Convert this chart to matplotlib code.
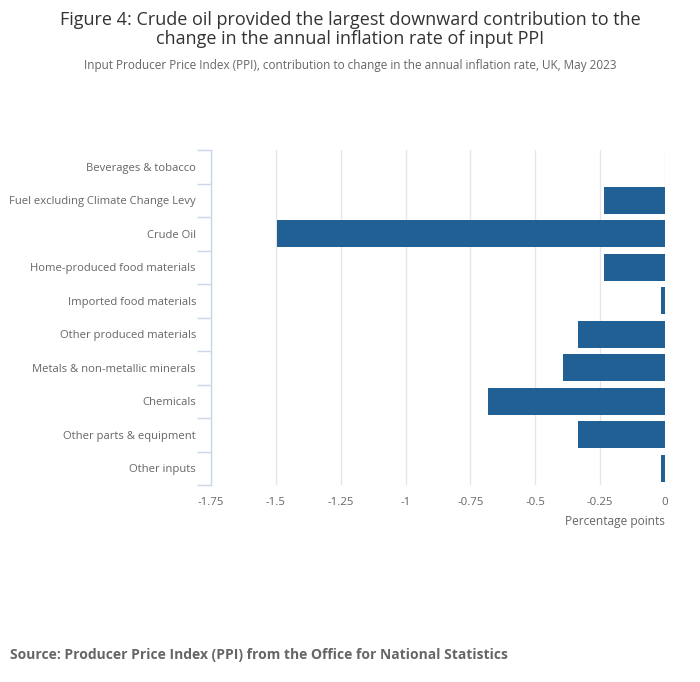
import matplotlib
matplotlib.use("Agg")
import matplotlib.pyplot as plt
import numpy as np

plt.rcParams['font.family'] = ['Open Sans', 'DejaVu Sans']

# data (percentage points)
categories = [
    "Beverages & tobacco",
    "Fuel excluding Climate Change Levy",
    "Crude Oil",
    "Home-produced food materials",
    "Imported food materials",
    "Other produced materials",
    "Metals & non-metallic minerals",
    "Chemicals",
    "Other parts & equipment",
    "Other inputs",
]
contributions = [0.0, -0.235, -1.495, -0.235, -0.015, -0.335, -0.393, -0.683, -0.335, -0.015]
xticks = [-1.75, -1.5, -1.25, -1.0, -0.75, -0.5, -0.25, 0.0]
xtick_labels = ["-1.75", "-1.5", "-1.25", "-1", "-0.75", "-0.5", "-0.25", "0"]

BAR = "#206095"
TEXT = "#666666"
AXIS = "#ccd6eb"
GRID = "#e6e6e6"

W, H = 700, 682
fig = plt.figure(figsize=(W / 100, H / 100), dpi=100)

# plot area in pixels: left 211, right 665, top 150, bottom 485
left, right, top, bottom = 211, 665, 150, 485
ax = fig.add_axes([left / W, 1 - bottom / H, (right - left) / W, (bottom - top) / H])

y = np.arange(len(categories))
ax.barh(y, contributions, height=0.8, color=BAR, zorder=3)

ax.set_xlim(-1.75, 0)
ax.set_ylim(len(categories) - 0.5, -0.5)

ax.set_xticks(xticks)
ax.set_xticklabels(xtick_labels)
ax.tick_params(axis='x', length=0, labelsize=8.2, labelcolor=TEXT, pad=8.5)
ax.grid(axis='x', color=GRID, linewidth=1, zorder=0)

ax.set_yticks(y)
ax.set_yticklabels(categories)
ax.tick_params(axis='y', which='major', length=0, labelsize=8.1, labelcolor=TEXT, pad=10.8)
ax.set_yticks(np.arange(-0.5, len(categories), 1), minor=True)
ax.tick_params(axis='y', which='minor', length=10, color=AXIS, width=1)

for side in ['top', 'right', 'bottom']:
    ax.spines[side].set_visible(False)
ax.spines['left'].set_color(AXIS)
ax.spines['left'].set_linewidth(1)

ax.set_xlabel("Percentage points", fontsize=8.6, color=TEXT, loc='right', labelpad=5)

fig.text(0.5, 1 - 11 / H, "Figure 4: Crude oil provided the largest downward contribution to the\n"
         "change in the annual inflation rate of input PPI",
         ha='center', va='top', fontsize=13.0, color="#333333", linespacing=1.05)
fig.text(0.5, 1 - 65 / H, "Input Producer Price Index (PPI), contribution to change in the annual inflation rate, UK, May 2023",
         ha='center', va='center', fontsize=8.5, color=TEXT)
fig.text(10 / W, 1 - 655 / H, "Source: Producer Price Index (PPI) from the Office for National Statistics",
         ha='left', va='center', fontsize=10.0, fontweight='bold', color=TEXT)

fig.savefig("out.png", dpi=100)
